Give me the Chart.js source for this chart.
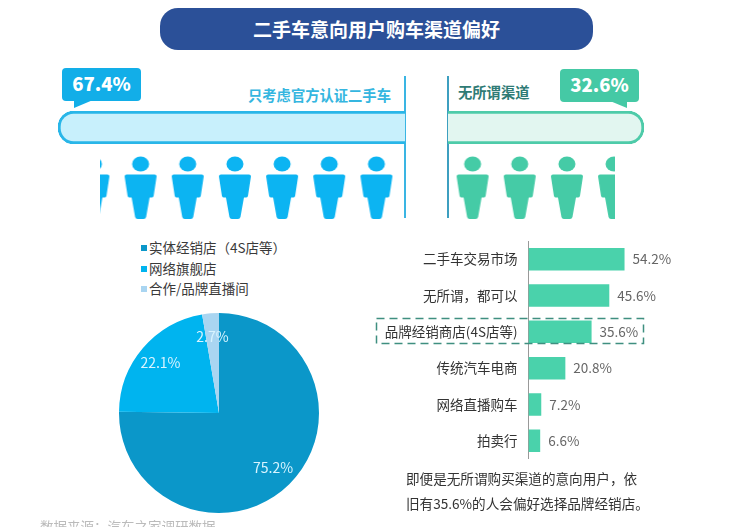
<!DOCTYPE html>
<html lang="zh">
<head>
<meta charset="utf-8">
<title>二手车意向用户购车渠道偏好</title>
<script src="https://cdn.jsdelivr.net/npm/chart.js@4/dist/chart.umd.js"></script>
<style>
  html, body { margin: 0; width: 744px; height: 527px; overflow: hidden; background: #fff; }
  body { position: relative; font-family: "Noto Sans CJK SC", "Noto Sans", sans-serif; color: #333; }
  canvas, .abs { position: absolute; display: block; }
  .pill { left: 160px; top: 8px; width: 433px; height: 42px; border-radius: 18px; background: #2b5098;
    color: #fff; font-size: 19px; font-weight: 700; line-height: 42px; text-align: center; }
  .callout { width: 79px; height: 33px; border-radius: 4px; color: #fff; font-size: 18.5px; font-weight: 900;
    line-height: 31px; text-align: center; }
  .head { font-size: 14.3px; font-weight: 700; line-height: 20px; white-space: nowrap; }
  .vline { width: 2px; top: 76px; height: 142px; }
  .legend { left: 141px; top: 237px; font-size: 13.5px; line-height: 20.6px; color: #3a3a3a; }
  .legend i { display: inline-block; width: 6px; height: 6px; margin-right: 2px; vertical-align: 2px; }
  .note { left: 406px; top: 466px; width: 240px; font-size: 13.6px; line-height: 25px; color: #333; white-space: nowrap; }
  .source { left: 40px; top: 518px; font-size: 13.5px; line-height: 16px; color: #bbb; white-space: nowrap; }
</style>
</head>
<body>
<div class="abs pill">二手车意向用户购车渠道偏好</div>

<svg class="abs" style="left:0;top:0" width="744" height="527">
  <polygon points="74,100 74,108 93,100" fill="#12aee8"/>
  <polygon points="610,101 627,108 627,101" fill="#45c9a5"/>
</svg>
<div class="abs callout" id="leftCallout" style="left:62px;top:68px;background:#12aee8"></div>
<div class="abs callout" id="rightCallout" style="left:560px;top:69px;background:#45c9a5"></div>
<div class="abs head" id="leftHead" style="left:248px;top:85px;color:#35b6e0"></div>
<div class="abs head" id="rightHead" style="left:458px;top:82px;color:#2f7b75"></div>
<div class="abs vline" style="left:404px;background:#3ab5e3"></div>
<div class="abs vline" style="left:447px;background:#3d9fc0"></div>

<canvas id="leftBar" width="347" height="33" style="left:58px;top:111px"></canvas>
<canvas id="rightBar" width="196" height="33" style="left:448px;top:111px"></canvas>
<canvas id="leftPeople" width="300" height="66" style="left:100px;top:155px"></canvas>
<canvas id="rightPeople" width="166" height="66" style="left:449px;top:155px"></canvas>

<div class="abs legend" id="pieLegend"></div>
<canvas id="pieChart" width="210" height="210" style="left:114px;top:308px"></canvas>
<canvas id="barChart" width="320" height="218" style="left:360px;top:241px"></canvas>
<svg class="abs" style="left:0;top:0" width="744" height="527">
  <rect x="376.5" y="318.5" width="267" height="25" fill="none" stroke="#3f8f80" stroke-width="1.5" stroke-dasharray="8 5"/>
</svg>

<div class="abs note">即便是无所谓购买渠道的意向用户，依<br>旧有35.6%的人会偏好选择品牌经销店。</div>
<div class="abs source">数据来源：汽车之家调研数据</div>

<script>
const shareLabels = ['只考虑官方认证二手车', '无所谓渠道'];
const shareValues = [67.4, 32.6];
const leftSlots = [0.5, 1.5, 2.5, 3.5, 4.5, 5.5, 6.5];
const rightSlots = [0.5, 1.5, 2.5, 3.5];

const pieLabels = ['实体经销店（4S店等）', '网络旗舰店', '合作/品牌直播间'];
const pieValues = [75.2, 22.1, 2.7];
const pieColors = ['#0b97c9', '#00b4ef', '#a9d5f1'];

const barLabels = ['二手车交易市场', '无所谓，都可以', '品牌经销商店(4S店等)', '传统汽车电商', '网络直播购车', '拍卖行'];
const barValues = [54.2, 45.6, 35.6, 20.8, 7.2, 6.6];

const fontName = '"Noto Sans CJK SC", "Noto Sans", sans-serif';

document.getElementById('leftCallout').textContent = shareValues[0] + '%';
document.getElementById('rightCallout').textContent = shareValues[1] + '%';
document.getElementById('leftHead').textContent = shareLabels[0];
document.getElementById('rightHead').textContent = shareLabels[1];
document.getElementById('pieLegend').innerHTML = pieLabels.map(function (t, i) {
  return '<div><i style="background:' + pieColors[i] + '"></i>' + t + '</div>';
}).join('');

Chart.defaults.animation = false;
Chart.defaults.responsive = false;
Chart.defaults.layout.autoPadding = false;
Chart.defaults.plugins.tooltip.enabled = false;
Chart.defaults.plugins.legend.display = false;

function capsule(id, value, stroke, fill, reversed) {
  const r = reversed ? { topLeft: 16, bottomLeft: 16, topRight: 0, bottomRight: 0 }
                     : { topLeft: 0, bottomLeft: 0, topRight: 16, bottomRight: 16 };
  new Chart(document.getElementById(id), {
    type: 'bar',
    data: {
      labels: [''],
      datasets: [{
        data: [value],
        backgroundColor: fill,
        borderColor: stroke,
        borderWidth: 3,
        borderRadius: r,
        borderSkipped: 'start',
        barPercentage: 1,
        categoryPercentage: 1
      }]
    },
    options: {
      indexAxis: 'y',
      scales: {
        x: { display: false, min: 0, max: value, reverse: reversed },
        y: { display: false }
      }
    }
  });
}

function personIcon(color) {
  const c = document.createElement('canvas');
  c.width = 34;
  c.height = 64;
  const g = c.getContext('2d');
  g.fillStyle = color;
  g.beginPath();
  g.ellipse(17, 8, 8.5, 7.5, 0, 0, Math.PI * 2);
  g.fill();
  g.beginPath();
  g.moveTo(3, 18.5);
  g.lineTo(31, 18.5);
  g.quadraticCurveTo(33, 18.5, 33, 20.5);
  g.lineTo(30, 40);
  g.quadraticCurveTo(29.5, 41.5, 28, 41.5);
  g.lineTo(26, 41.5);
  g.lineTo(22.5, 61);
  g.quadraticCurveTo(22, 63, 20, 63);
  g.lineTo(14, 63);
  g.quadraticCurveTo(12, 63, 11.5, 61);
  g.lineTo(8, 41.5);
  g.lineTo(6, 41.5);
  g.quadraticCurveTo(4.5, 41.5, 4, 40);
  g.lineTo(1, 20.5);
  g.quadraticCurveTo(1, 18.5, 3, 18.5);
  g.fill();
  return c;
}

function people(id, slots, axisMax, color, reversed) {
  new Chart(document.getElementById(id), {
    type: 'scatter',
    data: {
      datasets: [{
        data: slots.map(function (s) { return { x: s, y: 0 }; }),
        pointStyle: personIcon(color),
        pointRadius: 17,
        clip: 0
      }]
    },
    options: {
      scales: {
        x: { display: false, min: 0, max: axisMax, reverse: reversed },
        y: { display: false, min: -1, max: 1 }
      }
    }
  });
}

capsule('leftBar', shareValues[0], '#29b6e8', '#c8f0fc', true);
capsule('rightBar', shareValues[1], '#4ecba9', '#e2f6f0', false);
people('leftPeople', leftSlots, 6.36, '#0cb4f2', true);
people('rightPeople', rightSlots, 3.52, '#45cba6', false);

// labels sit at about 3/4 of the radius, on the middle of each slice
const pieValueLabels = {
  id: 'pieValueLabels',
  afterDatasetsDraw: function (chart) {
    const ctx = chart.ctx;
    ctx.save();
    ctx.font = '14px ' + fontName;
    ctx.fillStyle = '#d8f4ff';
    ctx.textAlign = 'center';
    ctx.textBaseline = 'middle';
    chart.getDatasetMeta(0).data.forEach(function (arc, i) {
      const mid = (arc.startAngle + arc.endAngle) / 2;
      ctx.fillText(pieValues[i] + '%', arc.x + Math.cos(mid) * arc.outerRadius * 0.77, arc.y + Math.sin(mid) * arc.outerRadius * 0.77);
    });
    ctx.restore();
  }
};

new Chart(document.getElementById('pieChart'), {
  type: 'pie',
  data: {
    labels: pieLabels,
    datasets: [{ data: pieValues, backgroundColor: pieColors, borderWidth: 0 }]
  },
  options: { layout: { padding: 5 } },
  plugins: [pieValueLabels]
});

const barValueLabels = {
  id: 'barValueLabels',
  afterDatasetsDraw: function (chart) {
    const ctx = chart.ctx;
    ctx.save();
    ctx.font = '13.5px ' + fontName;
    ctx.fillStyle = '#666';
    ctx.textBaseline = 'middle';
    chart.getDatasetMeta(0).data.forEach(function (bar, i) {
      ctx.fillText(barValues[i] + '%', bar.x + 8, bar.y);
    });
    ctx.restore();
  }
};

new Chart(document.getElementById('barChart'), {
  type: 'bar',
  data: {
    labels: barLabels,
    datasets: [{
      data: barValues,
      backgroundColor: '#4ad2ab',
      barPercentage: 1,
      categoryPercentage: 0.617
    }]
  },
  options: {
    indexAxis: 'y',
    layout: { padding: 0 },
    scales: {
      x: { display: false, min: 0, max: 85.5 },
      y: {
        // tick padding would otherwise shrink the plot height
        afterFit: function (axis) { axis.width = 168.5; axis.paddingTop = 0; axis.paddingBottom = 0; },
        grid: { display: false, drawTicks: false },
        border: { display: true, color: '#999', width: 1 },
        ticks: { color: '#333', padding: 11, font: { family: fontName, size: 13.5 }, autoSkip: false }
      }
    }
  },
  plugins: [barValueLabels]
});
</script>
</body>
</html>
